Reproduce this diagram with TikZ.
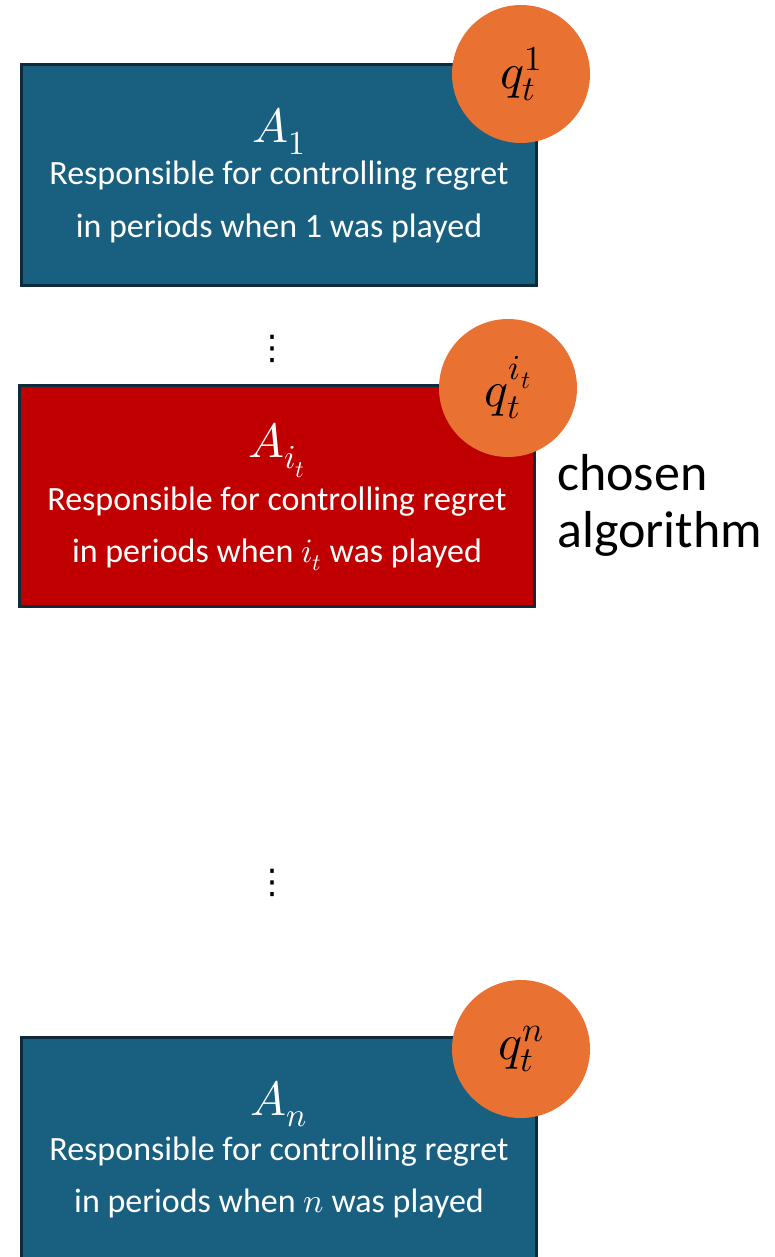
\documentclass[tikz,border=0pt]{standalone}
\usepackage{fontspec}
\usepackage{unicode-math}
\setmainfont{Carlito}
\setmathfont{Latin Modern Math}
\newfontfamily\symfont{DejaVu Sans}

\definecolor{boxblue}{HTML}{185F80}
\definecolor{boxred}{HTML}{C00000}
\definecolor{edgedark}{HTML}{0E2A3B}
\definecolor{weightorange}{HTML}{E97132}

\tikzset{
  algbox/.style={draw=edgedark, line width=3pt, minimum width=515pt,
    minimum height=221pt, inner sep=0pt},
  weight/.style={circle, fill=weightorange, minimum size=138pt, inner sep=0pt,
    font=\fontsize{50}{50}\selectfont},
  title/.style={text=white, inner sep=0pt, anchor=base,
    font=\fontsize{48}{48}\selectfont},
  body/.style={text=white, inner sep=0pt, anchor=base,
    font=\fontsize{34}{34}\selectfont},
  side/.style={text=black, inner sep=0pt, anchor=base west,
    font=\fontsize{52}{52}\selectfont},
  ellipsis/.style={text=black, inner sep=0pt, font=\symfont\fontsize{34}{34}\selectfont}
}

\begin{document}
\begin{tikzpicture}[x=1pt, y=-1pt]
\useasboundingbox (0,0) rectangle (774,1257);
\clip (0,0) rectangle (774,1257);

% first base algorithm
\node[algbox, fill=boxblue] (b1) at (279,175) {};
\node[weight] (w1) at (521,74) {$q_t^1$};
\node[title] (t1) at (279,143) {$A_1$};
\node[body] (l1a) at (279,185) {Responsible for controlling regret};
\node[body] (l1b) at (279,237) {in periods when 1 was played};

\node[ellipsis] (d1) at (272,349) {⋮};

% the chosen algorithm
\node[algbox, fill=boxred] (b2) at (277,496) {};
\node[weight] (w2) at (508,388) {$q_t^{i_t}$};
\node[title] (t2) at (277,457) {$A_{i_t}$};
\node[body] (l2a) at (277,510) {Responsible for controlling regret};
\node[body] (l2b) at (277,562) {in periods when $i_t$ was played};
\node[side] (c1) at (557,490) {chosen};
\node[side] (c2) at (557,547) {algorithm};

\node[ellipsis] (d2) at (272,883) {⋮};

% last base algorithm
\node[algbox, fill=boxblue] (b3) at (279,1148) {};
\node[weight] (w3) at (521,1049) {$q_t^n$};
\node[title] (t3) at (279,1115) {$A_n$};
\node[body] (l3a) at (279,1160) {Responsible for controlling regret};
\node[body] (l3b) at (279,1212) {in periods when $n$ was played};
\end{tikzpicture}
\end{document}
